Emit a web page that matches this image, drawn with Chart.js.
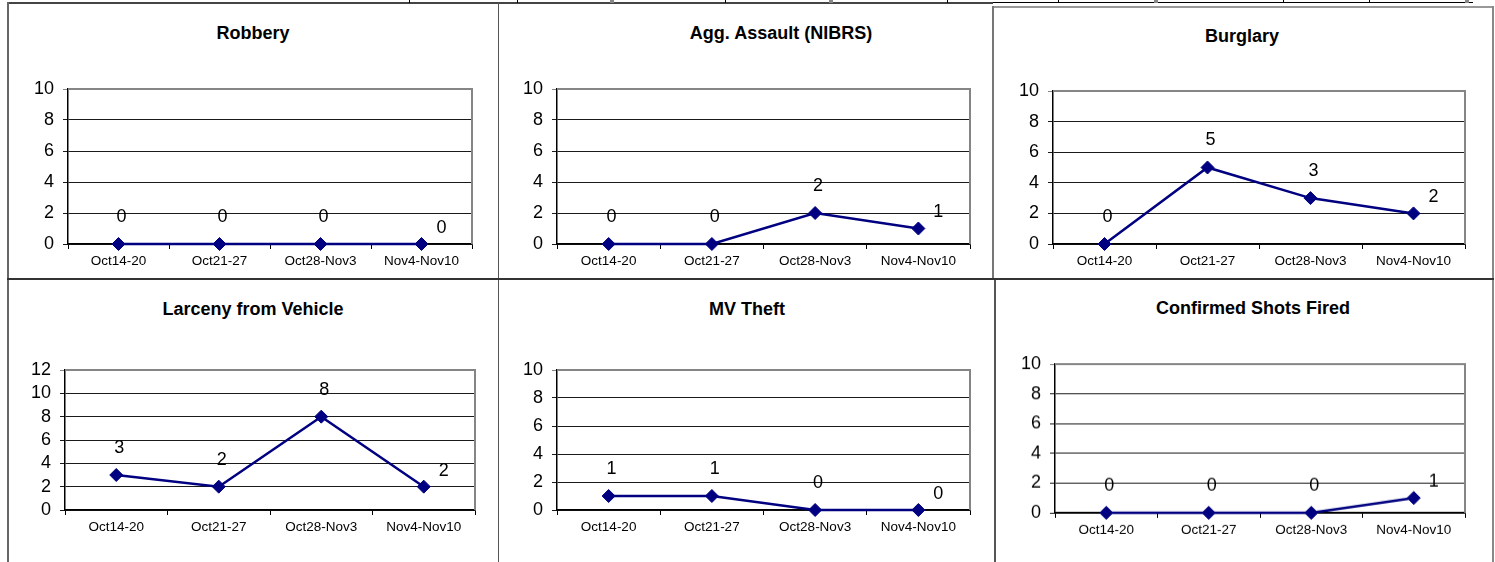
<!DOCTYPE html>
<html lang="en">
<head>
  <meta charset="UTF-8">
  <title>Weekly crime charts</title>
  <script src="https://cdn.jsdelivr.net/npm/chart.js"></script>
  <style>
    body {
      margin: 0;
      background: #fff;
      width: 1495px;
      height: 562px;
      overflow: hidden;
      position: relative;
      font-family: "Liberation Sans", Arial, sans-serif;
    }
    .ln { position: absolute; background: #555; }
    .ttl {
      position: absolute;
      font-weight: bold;
      font-size: 18px;
      color: #000;
      transform: translate(-50%, -50%);
      white-space: nowrap;
    }
    canvas { position: absolute; }
  </style>
</head>
<body>

<script>
// data
const categories = ['Oct14-20', 'Oct21-27', 'Oct28-Nov3', 'Nov4-Nov10'];
const robbery = [0, 0, 0, 0];
const aggAssault = [0, 0, 2, 1];
const burglary = [0, 5, 3, 2];
const larcenyFromVehicle = [3, 2, 8, 2];
const mvTheft = [1, 1, 0, 0];
const shotsFired = [0, 0, 0, 1];
const chartTitles = ['Robbery', 'Agg. Assault (NIBRS)', 'Burglary', 'Larceny from Vehicle', 'MV Theft', 'Confirmed Shots Fired'];
const yMaxes = [10, 10, 10, 12, 10, 10];
const allSeries = [robbery, aggAssault, burglary, larcenyFromVehicle, mvTheft, shotsFired];

// where each plot area sits on the page (left, top, right, bottom)
const plots = [
  [67.5, 89, 472, 244],
  [557, 89, 970, 244],
  [1053, 91, 1465, 244],
  [64.5, 369.5, 475, 510],
  [557, 369.5, 970, 510],
  [1055, 364, 1465, 512.5]
];
const titlePos = [[253, 33], [781, 33], [1242, 36], [253, 309], [747, 309], [1253, 308]];

const Y_AXIS_W = 67, X_AXIS_H = 40, PAD_T = 20, PAD_R = 12;

// table lines of the scanned page
function line(x, y, w, h, color) {
  const d = document.createElement('div');
  d.className = 'ln';
  d.style.left = x + 'px'; d.style.top = y + 'px';
  d.style.width = w + 'px'; d.style.height = h + 'px';
  if (color) d.style.background = color;
  document.body.appendChild(d);
}
line(7, 2, 986, 1.5, '#444');
line(409, 0, 1, 3, '#000'); line(517, 0, 1, 3, '#000'); line(725, 0, 1, 3, '#000');
line(947, 0, 1, 3, '#000'); line(1058, 0, 1, 3, '#000'); line(1283, 0, 1, 3, '#000'); line(1369, 0, 1, 3, '#000');
line(993, 2, 480, 1, '#000');
[612, 831, 1156, 1467].forEach(x => line(x - 2, 0, 4, 3, '#888'));
line(992, 5.5, 501, 2, '#999');
line(7, 2, 1.5, 560, '#666');
line(497.5, 2, 1.5, 560, '#555');
line(992, 5.5, 1.5, 274, '#777');
line(994, 278, 1.5, 284, '#555');
line(1492, 5.5, 2, 557, '#888');
line(7, 278, 1487, 1.5, '#333');

const labelPlugin = {
  id: 'pointValues',
  afterDatasetsDraw(chart) {
    const ctx = chart.ctx;
    const meta = chart.getDatasetMeta(0);
    const vals = chart.data.datasets[0].data;
    ctx.save();
    ctx.font = '18px "Liberation Sans", Arial, sans-serif';
    ctx.fillStyle = '#000';
    ctx.textAlign = 'center';
    ctx.textBaseline = 'middle';
    meta.data.forEach((pt, i) => {
      const last = i === meta.data.length - 1;
      ctx.fillText(String(vals[i]), pt.x + (last ? 20 : 3), pt.y + (last ? -16 : -27));
    });
    ctx.restore();
  }
};

const frameLines = {
  id: 'frameLines',
  beforeDatasetsDraw(chart) {
    const a = chart.chartArea, ctx = chart.ctx;
    ctx.save();
    ctx.strokeStyle = '#858585';
    ctx.lineWidth = 2;
    ctx.beginPath();
    ctx.moveTo(a.left, a.top);
    ctx.lineTo(a.right, a.top);
    ctx.lineTo(a.right, a.bottom);
    ctx.stroke();
    ctx.restore();
  }
};

allSeries.forEach((series, k) => {
  const [l, t, r, b] = plots[k];
  const cv = document.createElement('canvas');
  const w = r - l + Y_AXIS_W + PAD_R;
  const h = b - t + PAD_T + X_AXIS_H;
  cv.style.left = (l - Y_AXIS_W) + 'px';
  cv.style.top = (t - PAD_T) + 'px';
  cv.style.width = w + 'px';
  cv.style.height = h + 'px';
  document.body.appendChild(cv);

  const tt = document.createElement('div');
  tt.className = 'ttl';
  tt.textContent = chartTitles[k];
  tt.style.left = titlePos[k][0] + 'px';
  tt.style.top = titlePos[k][1] + 'px';
  document.body.appendChild(tt);

  new Chart(cv, {
    type: 'line',
    data: {
      labels: categories,
      datasets: [{
        data: series,
        borderColor: '#000080',
        backgroundColor: '#000080',
        borderWidth: 2.5,
        pointStyle: 'rectRot',
        pointRadius: 6.5,
        pointBorderWidth: 1,
        tension: 0,
        clip: false
      }]
    },
    options: {
      responsive: false,
      animation: false,
      devicePixelRatio: 1,
      layout: { padding: { top: PAD_T, right: PAD_R, left: 0, bottom: 0 } },
      plugins: { legend: { display: false }, tooltip: { enabled: false }, title: { display: false } },
      scales: {
        x: {
          offset: true,
          afterFit: s => { s.height = X_AXIS_H; },
          grid: { offset: true, drawOnChartArea: false, drawTicks: true, tickLength: 5, color: '#000' },
          border: { color: '#000', width: 1.5 },
          ticks: { color: '#000', padding: 4, maxRotation: 0, autoSkip: false, font: { size: 13.5, family: '"Liberation Sans", Arial, sans-serif' } }
        },
        y: {
          min: 0,
          max: yMaxes[k],
          afterFit: s => { s.width = Y_AXIS_W; },
          grid: {
            color: c => c.index === c.chart.scales.y.ticks.length - 1 ? '#858585' : '#1a1a1a',
            lineWidth: 1,
            tickLength: 5
          },
          border: { color: '#000', width: 1.5 },
          ticks: { stepSize: 2, autoSkip: false, color: '#000', padding: 9, font: { size: 18, family: '"Liberation Sans", Arial, sans-serif' } }
        }
      }
    },
    plugins: [frameLines, labelPlugin]
  });
});
</script>
</body>
</html>
